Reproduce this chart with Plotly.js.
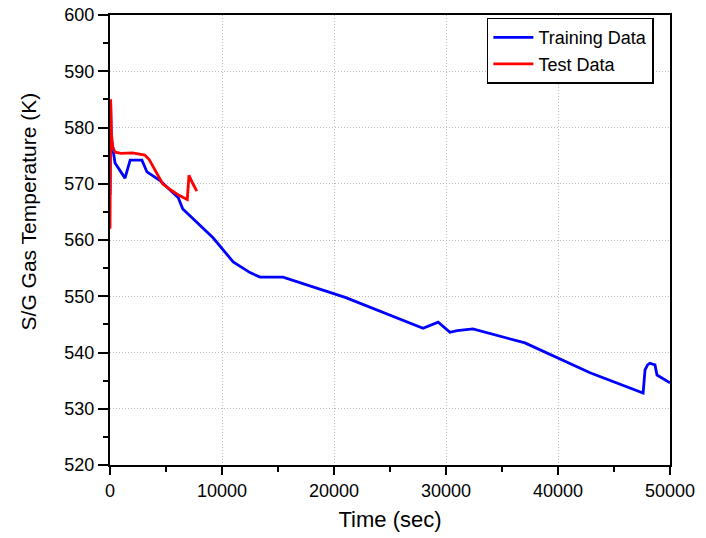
<!DOCTYPE html>
<html>
<head>
<meta charset="utf-8">
<script src="https://cdn.plot.ly/plotly-3.0.1.min.js"></script>
<style>html,body{margin:0;padding:0;background:#fff;}#chart{width:706px;height:538px;}</style>
</head>
<body>
<div id="chart"></div>
<script>
const trainTime = [0, 60, 120, 250, 450, 1340, 1600, 1800, 2850, 3300, 4500, 6100, 6300, 6500, 9200, 11000, 12500, 13400, 15450, 21000, 27950, 29300, 30350, 31000, 32400, 37050, 42860, 47600, 47770, 48000, 48200, 48660, 48840, 50000];
const trainTemp = [568, 584, 578, 576.4, 573.7, 571.0, 573, 574.2, 574.2, 572.1, 570.5, 567.5, 566.5, 565.5, 560.4, 556.1, 554.2, 553.4, 553.4, 549.8, 544.3, 545.4, 543.6, 543.9, 544.2, 541.7, 536.4, 532.8, 536.9, 537.8, 538.1, 537.8, 536, 534.6];
const testTime = [0, 60, 120, 250, 450, 1000, 2000, 2500, 3100, 3500, 4000, 4700, 5500, 6200, 6900, 6950, 7050, 7400, 7750];
const testTemp = [562, 585, 579, 576.5, 575.6, 575.4, 575.5, 575.3, 575.1, 574.3, 572.5, 570, 568.8, 567.9, 567.2, 569, 571.5, 570, 568.7];
const xTicks = [0, 10000, 20000, 30000, 40000, 50000];
const yTicks = [520, 530, 540, 550, 560, 570, 580, 590, 600];
const xTitle = 'Time (sec)';
const yTitle = 'S/G Gas Temperature (K)';

const font = 'Arial, "Liberation Sans", sans-serif';
const traces = [
  {x: trainTime, y: trainTemp, mode: 'lines', name: 'Training Data', line: {color: '#0000ff', width: 2.8}},
  {x: testTime, y: testTemp, mode: 'lines', name: 'Test Data', line: {color: '#ff0000', width: 2.8}}
];
const axisCommon = {
  showline: true, linecolor: '#000', linewidth: 2, mirror: true,
  ticks: 'outside', ticklen: 8, tickwidth: 2, tickcolor: '#000',
  showgrid: true, gridcolor: '#bcbcbc', griddash: '1px,2px', gridwidth: 1,
  zeroline: false,
  tickfont: {family: font, size: 18, color: '#000'}
};
const layout = {
  width: 706, height: 538,
  margin: {l: 110, r: 36, t: 15, b: 73},
  paper_bgcolor: '#fff', plot_bgcolor: '#fff',
  showlegend: true,
  legend: {x: 0.673, y: 0.994, xanchor: 'left', yanchor: 'top', bordercolor: '#000', borderwidth: 1.5,
    bgcolor: '#fff', font: {family: font, size: 18, color: '#000'}, tracegroupgap: 0, itemwidth: 40},
  xaxis: Object.assign({}, axisCommon, {
    range: [0, 50000], tickvals: xTicks, ticktext: xTicks.map(String),
    minor: {dtick: 5000, ticks: 'outside', ticklen: 5, tickwidth: 2, tickcolor: '#000', showgrid: false},
    title: {text: xTitle, font: {family: font, size: 22, color: '#000'}, standoff: 12}
  }),
  yaxis: Object.assign({}, axisCommon, {
    range: [520, 600], tickvals: yTicks, ticktext: yTicks.map(String), ticklen: 10,
    minor: {dtick: 5, ticks: 'outside', ticklen: 5, tickwidth: 2, tickcolor: '#000', showgrid: false}
  }),
  annotations: [{
    text: yTitle, textangle: -90, showarrow: false,
    xref: 'paper', yref: 'paper', x: -0.146, y: 0.564, xanchor: 'center', yanchor: 'middle',
    font: {family: font, size: 21, color: '#000'}
  }]
};
Plotly.newPlot('chart', traces, layout, {displayModeBar: false, staticPlot: true});
</script>
</body>
</html>
